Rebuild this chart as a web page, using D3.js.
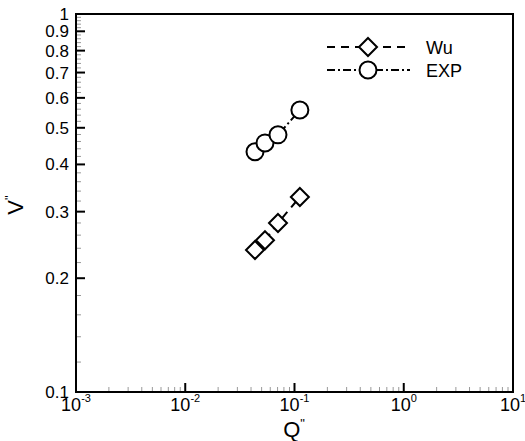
<!DOCTYPE html>
<html>
<head>
<meta charset="utf-8">
<script src="https://cdn.jsdelivr.net/npm/d3@7"></script>
<style>
  body { margin: 0; background: #fff; }
  svg { display: block; font-family: "Liberation Sans", Arial, sans-serif; }
</style>
</head>
<body>
<svg class="canvas" width="525" height="441"></svg>
<script>
// values
var qValues = [0.0435, 0.0537, 0.0706, 0.112];
var wuValues = [0.2375, 0.252, 0.280, 0.328];
var expValues = [0.432, 0.456, 0.479, 0.557];

var yMajorTicks = [0.1, 0.2, 0.3, 0.4, 0.5, 0.6, 0.7, 0.8, 0.9, 1];
var yTickLabels = ['0.1', '0.2', '0.3', '0.4', '0.5', '0.6', '0.7', '0.8', '0.9', '1'];
var xExponents = [-3, -2, -1, 0, 1];

var frame = {left: 76, top: 14, right: 513, bottom: 392};

var svg = d3.select('.canvas');

var x = d3.scaleLog().domain([1e-3, 1e1]).range([frame.left, frame.right]);
var y = d3.scaleLog().domain([0.1, 1]).range([frame.bottom, frame.top]);

// minor ticks
var xMinor = [];
xExponents.slice(0, -1).forEach(function(e){
    for (var m = 2; m <= 9; m++) xMinor.push(m * Math.pow(10, e));
});
var yMinor = [];
for (var i = 0; i < yMajorTicks.length - 1; i++) {
    for (var k = 1; k < 5; k++) yMinor.push(yMajorTicks[i] + k * 0.02);
}

var ticks = svg.append('g').classed('ticks', true);

ticks.selectAll('.xminor').data(xMinor).enter().append('line')
    .attr('x1', function(d){ return x(d); }).attr('x2', function(d){ return x(d); })
    .attr('y1', frame.bottom).attr('y2', frame.bottom - 5)
    .attr('stroke', '#999').attr('stroke-width', 1);

ticks.selectAll('.yminor').data(yMinor).enter().append('line')
    .attr('y1', function(d){ return y(d); }).attr('y2', function(d){ return y(d); })
    .attr('x1', frame.left).attr('x2', frame.left + 5)
    .attr('stroke', '#999').attr('stroke-width', 1);

ticks.selectAll('.xmajor').data(xExponents).enter().append('line')
    .attr('x1', function(d){ return x(Math.pow(10, d)); })
    .attr('x2', function(d){ return x(Math.pow(10, d)); })
    .attr('y1', frame.bottom).attr('y2', frame.bottom - 9)
    .attr('stroke', '#000').attr('stroke-width', 2);

ticks.selectAll('.ymajor').data(yMajorTicks).enter().append('line')
    .attr('y1', function(d){ return y(d); }).attr('y2', function(d){ return y(d); })
    .attr('x1', frame.left).attr('x2', frame.left + 9)
    .attr('stroke', '#000').attr('stroke-width', 2);

// frame
svg.append('rect')
    .attr('x', frame.left).attr('y', frame.top)
    .attr('width', frame.right - frame.left).attr('height', frame.bottom - frame.top)
    .attr('fill', 'none').attr('stroke', '#000').attr('stroke-width', 2);

// tick labels
svg.selectAll('.ylabel').data(yMajorTicks).enter().append('text')
    .attr('x', 69).attr('y', function(d){ return y(d) + 6; })
    .attr('text-anchor', 'end').attr('font-size', 17)
    .text(function(d, i){ return yTickLabels[i]; });

var xl = svg.selectAll('.xlabel').data(xExponents).enter().append('text')
    .attr('x', function(d){ return x(Math.pow(10, d)); }).attr('y', 411)
    .attr('text-anchor', 'middle').attr('font-size', 18);
xl.append('tspan').text('10');
xl.append('tspan').attr('font-size', 11).attr('dy', -9)
    .text(function(d){ return d < 0 ? '-' + Math.abs(d) : String(d); });

// axis titles
var xt = svg.append('text').attr('x', 294).attr('y', 437)
    .attr('text-anchor', 'middle').attr('font-size', 22);
xt.append('tspan').text('Q');
xt.append('tspan').attr('font-size', 13).attr('dy', -9).text('"');

var yt = svg.append('text')
    .attr('transform', 'translate(23,205) rotate(-90)')
    .attr('text-anchor', 'middle').attr('font-size', 22);
yt.append('tspan').text('V');
yt.append('tspan').attr('font-size', 13).attr('dy', -9).text('"');

// series
var wuData = qValues.map(function(q, i){ return [q, wuValues[i]]; });
var expData = qValues.map(function(q, i){ return [q, expValues[i]]; });

var line = d3.line().x(function(d){ return x(d[0]); }).y(function(d){ return y(d[1]); });

var diamond = 'M0,-9L9,0L0,9L-9,0Z';

function drawSeries(data, dash, marker) {
    var g = svg.append('g');
    g.append('path').datum(data).attr('d', line)
        .attr('fill', 'none').attr('stroke', '#000').attr('stroke-width', 2)
        .attr('stroke-dasharray', dash);
    var m = g.selectAll('.pt').data(data).enter();
    if (marker === 'circle') {
        m.append('circle')
            .attr('cx', function(d){ return x(d[0]); }).attr('cy', function(d){ return y(d[1]); })
            .attr('r', 8.5).attr('fill', '#fff').attr('stroke', '#000').attr('stroke-width', 2);
    } else {
        m.append('path').attr('d', diamond)
            .attr('transform', function(d){ return 'translate(' + x(d[0]) + ',' + y(d[1]) + ')'; })
            .attr('fill', '#fff').attr('stroke', '#000').attr('stroke-width', 2);
    }
}

drawSeries(wuData, '8,6', 'diamond');
drawSeries(expData, '8,3,2,3', 'circle');

// legend
var legend = [
    {name: 'Wu', dash: '8,6', marker: 'diamond', y: 47},
    {name: 'EXP', dash: '8,3,2,3', marker: 'circle', y: 70}
];
legend.forEach(function(l){
    var g = svg.append('g');
    g.append('line').attr('x1', 327).attr('x2', 410).attr('y1', l.y).attr('y2', l.y)
        .attr('stroke', '#000').attr('stroke-width', 2).attr('stroke-dasharray', l.dash);
    if (l.marker === 'circle') {
        g.append('circle').attr('cx', 368).attr('cy', l.y).attr('r', 8.5)
            .attr('fill', '#fff').attr('stroke', '#000').attr('stroke-width', 2);
    } else {
        g.append('path').attr('d', diamond).attr('transform', 'translate(368,' + l.y + ')')
            .attr('fill', '#fff').attr('stroke', '#000').attr('stroke-width', 2);
    }
    g.append('text').attr('x', 426).attr('y', l.y + 6.5).attr('font-size', 18).text(l.name);
});
</script>
</body>
</html>
